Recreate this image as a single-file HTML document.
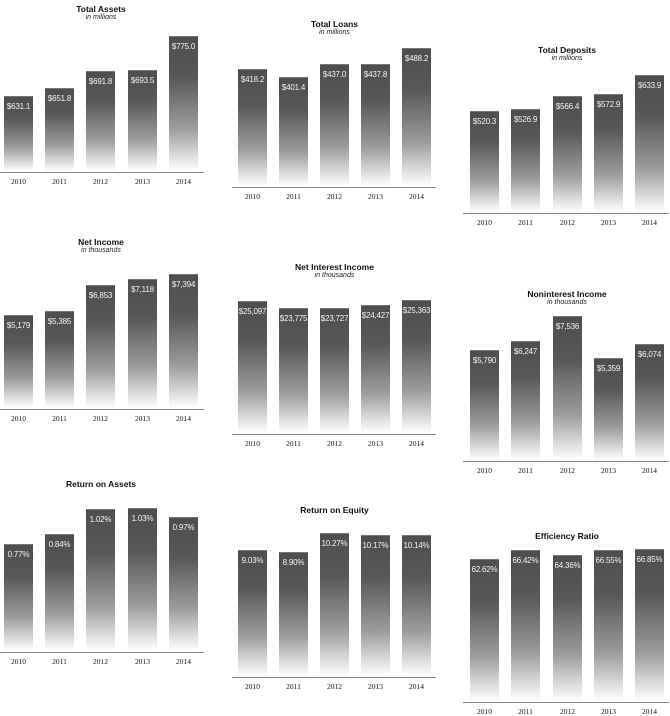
<!DOCTYPE html>
<html><head><meta charset="utf-8"><style>
body{margin:0;width:670px;height:714px;background:#fff;position:relative;overflow:hidden;font-family:"Liberation Sans",sans-serif}
.t{position:absolute;font-weight:bold;font-size:8.5px;color:#111;text-align:center;width:200px}
.s{position:absolute;font-style:italic;font-size:7px;color:#222;text-align:center;width:200px}
.b{position:absolute;width:29px;background:linear-gradient(#4e4e4e 0%,#585858 30%,#9c9c9c 68%,#fff 100%);border-top:1px solid #777}
.v{position:absolute;width:36px;text-align:center;color:#f2f2f2;font-size:8px;letter-spacing:-0.2px}
.a{position:absolute;height:1px;background:#888}
.y{position:absolute;width:30px;text-align:center;font-family:"Liberation Serif",serif;font-size:7.5px;color:#111}
</style></head><body>
<script>
var C=[
["Total Assets","in millions",0,204,[4,45,86,128,169],[96,88,71,70,36],172,4,["$631.1","$651.8","$691.8","$693.5","$775.0"]],
["Total Loans","in millions",232,436,[238,279,320,361,402],[69,77,64,64,48],187,19,["$418.2","$401.4","$437.0","$437.8","$488.2"]],
["Total Deposits","in millions",463,669,[470,511,553,594,635],[111,109,96,94,75],213,45,["$520.3","$526.9","$566.4","$572.9","$633.9"]],
["Net Income","in thousands",0,204,[4,45,86,128,169],[315,311,285,279,274],409,237,["$5,179","$5,385","$6,853","$7,118","$7,394"]],
["Net Interest Income","in thousands",232,436,[238,279,320,361,402],[301,308,308,305,300],434,262,["$25,097","$23,775","$23,727","$24,427","$25,363"]],
["Noninterest Income","in thousands",463,669,[470,511,553,594,635],[350,341,316,358,344],461,289,["$5,790","$6,247","$7,536","$5,359","$6,074"]],
["Return on Assets","",0,204,[4,45,86,128,169],[544,534,509,508,517],652,479,["0.77%","0.84%","1.02%","1.03%","0.97%"]],
["Return on Equity","",232,436,[238,279,320,361,402],[550,552,533,535,535],677,505,["9.03%","8.90%","10.27%","10.17%","10.14%"]],
["Efficiency  Ratio","",463,669,[470,511,553,594,635],[559,550,555,550,549],702,531,["62.62%","66.42%","64.36%","66.55%","66.85%"]]
];
var h="";
C.forEach(function(c){
 var cx=(c[4][0]+c[4][4]+29)/2;
 h+='<div class="t" style="left:'+(cx-100)+'px;top:'+c[7]+'px">'+c[0]+'</div>';
 if(c[1])h+='<div class="s" style="left:'+(cx-100)+'px;top:'+(c[7]+10)+'px">'+c[1]+'</div>';
 for(var i=0;i<5;i++){
  var x=c[4][i],t=c[5][i];
  h+='<div class="b" style="left:'+x+'px;top:'+t+'px;height:'+(c[6]-2-t)+'px"></div>';
  h+='<div class="v" style="left:'+(x-3.5)+'px;top:'+(t+6)+'px">'+c[8][i]+'</div>';
  h+='<div class="y" style="left:'+(x-0.5)+'px;top:'+(c[6]+5)+'px">'+(2010+i)+'</div>';
 }
 h+='<div class="a" style="left:'+c[2]+'px;width:'+(c[3]-c[2])+'px;top:'+c[6]+'px"></div>';
});
document.write(h);
</script>
</body></html>
